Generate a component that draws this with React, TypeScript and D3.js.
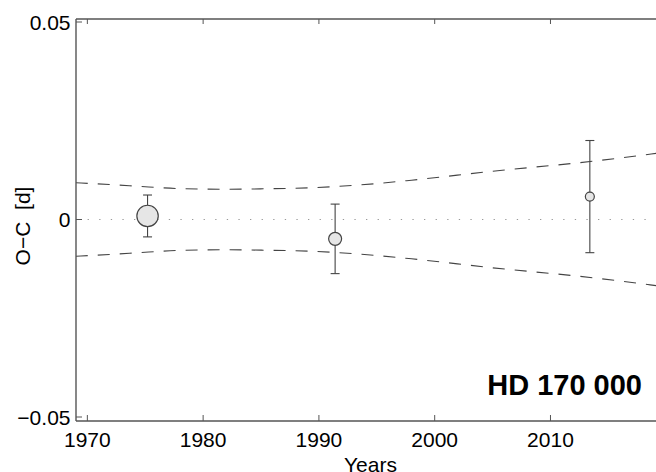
import React from "react";
import * as d3 from "d3";

const years = [1975.2, 1991.4, 2013.4];
const oc = [0.0009, -0.0049, 0.0058];
const errs = [0.0053, 0.0088, 0.0142];
const radii = [10.7, 6.5, 4.5];

const envYears = [1969.0, 1971.9, 1975.3, 1977.7, 1982.0, 1985.2, 1989.2, 1993.2, 1998.0, 2005.0, 2013.7, 2018.4, 2019.3];
const envUpper = [0.00929, 0.00886, 0.00823, 0.00785, 0.00767, 0.00777, 0.00803, 0.00868, 0.00995, 0.01223, 0.01476, 0.01646, 0.0168];

const xTicks = [1970, 1980, 1990, 2000, 2010];
const yTicks = [-0.05, 0, 0.05];
const yTickLabels = ["\u22120.05", "0", "0.05"];

const W = 656, H = 472;
const left = 76, top = 19, bottom = 421;
const x = d3.scaleLinear().domain([1969.02, 2019.2]).range([left, 657]);
const y = d3.scaleLinear().domain([-0.05101, 0.05076]).range([bottom, top]);

const axisColor = "#555";
const font = "Liberation Sans, Arial, sans-serif";

export default function App() {
  const lineUp = d3.line<number>().x((_, i) => x(envYears[i])).y((d) => y(d)).curve(d3.curveMonotoneX);
  const lineDown = d3.line<number>().x((_, i) => x(envYears[i])).y((d) => y(-d)).curve(d3.curveMonotoneX);
  return (
    <svg width={W} height={H} style={{ position: "absolute", left: 0, top: 0, background: "#fff" }}>
      <defs>
        <clipPath id="plot">
          <rect x={left} y={top} width={W - left} height={bottom - top} />
        </clipPath>
      </defs>
      <g clipPath="url(#plot)">
        <line x1={left} x2={W} y1={y(0)} y2={y(0)} stroke="#999" strokeWidth={1.2} strokeDasharray="1.3,10.3" />
        <path d={lineUp(envUpper) || ""} fill="none" stroke="#444" strokeWidth={1.1} strokeDasharray="12,10" />
        <path d={lineDown(envUpper) || ""} fill="none" stroke="#444" strokeWidth={1.1} strokeDasharray="12,10" />
        {years.map((yr, i) => {
          const cx = x(yr);
          const y1 = y(oc[i] + errs[i]);
          const y2 = y(oc[i] - errs[i]);
          return (
            <g key={i}>
              <line x1={cx} x2={cx} y1={y1} y2={y2} stroke="#444" strokeWidth={1.1} />
              <line x1={cx - 4.5} x2={cx + 4.5} y1={y1} y2={y1} stroke="#444" strokeWidth={1.1} />
              <line x1={cx - 4.5} x2={cx + 4.5} y1={y2} y2={y2} stroke="#444" strokeWidth={1.1} />
              <circle cx={cx} cy={y(oc[i])} r={radii[i]} fill="#e6e6e6" stroke="#444" strokeWidth={1.2} />
            </g>
          );
        })}
      </g>
      {/* axes box */}
      <line x1={left} x2={W} y1={top} y2={top} stroke={axisColor} strokeWidth={1.4} />
      <line x1={left} x2={W} y1={bottom} y2={bottom} stroke={axisColor} strokeWidth={1.4} />
      <line x1={left} x2={left} y1={top} y2={bottom} stroke={axisColor} strokeWidth={1.4} />
      {xTicks.map((t) => (
        <g key={t}>
          <line x1={x(t)} x2={x(t)} y1={bottom} y2={bottom - 6} stroke={axisColor} strokeWidth={1} />
          <line x1={x(t)} x2={x(t)} y1={top} y2={top + 5} stroke={axisColor} strokeWidth={1} />
          <text x={x(t)} y={446.5} textAnchor="middle" fontFamily={font} fontSize={21} fill="#000">
            {t}
          </text>
        </g>
      ))}
      {yTicks.map((t, i) => (
        <g key={t}>
          <line x1={left} x2={left + 6} y1={y(t)} y2={y(t)} stroke={axisColor} strokeWidth={1} />
          <text x={70.5} y={y(t) + 7.5} textAnchor="end" fontFamily={font} fontSize={21} fill="#000">
            {yTickLabels[i]}
          </text>
        </g>
      ))}
      <text x={370.5} y={472} textAnchor="middle" fontFamily={font} fontSize={21} fill="#000">
        Years
      </text>
      <text
        transform={`translate(30,226) rotate(-90)`}
        textAnchor="middle"
        fontFamily={font}
        fontSize={21}
        fill="#000"
        xmlSpace="preserve"
      >
        {"O\u2212C  [d]"}
      </text>
      <text x={642} y={395} textAnchor="end" fontFamily={font} fontSize={29} fontWeight="bold" fill="#000">
        HD 170 000
      </text>
    </svg>
  );
}
